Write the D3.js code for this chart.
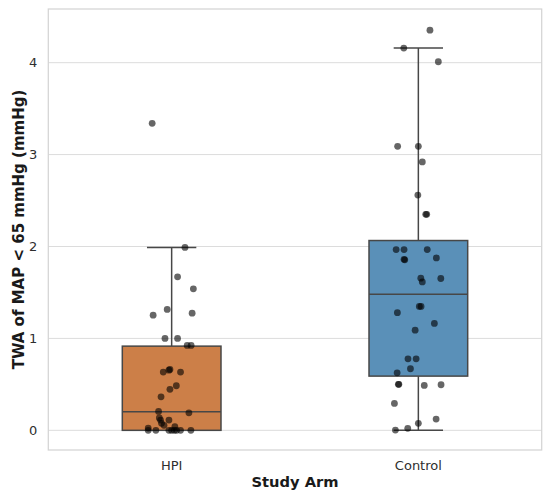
<!DOCTYPE html>
<html>
<head>
<meta charset="utf-8">
<script src="https://cdn.jsdelivr.net/npm/d3@7"></script>
<style>
  body { margin: 0; background: white; }
  text { font-family: "DejaVu Sans", sans-serif; }
</style>
</head>
<body>
<svg id="chart"></svg>
<script>
// categories and box stats
const categories = ["HPI", "Control"]
const boxColors = ["#cc7f48", "#5a90b8"]
const q1s = [0, 0.59]
const medians = [0.202, 1.48]
const q3s = [0.916, 2.065]
const whiskerLows = [0, 0]
const whiskerHighs = [1.99, 4.16]

const yTicks = [0, 1, 2, 3, 4]

// individual points, jitter is in category units
const hpiValues = [3.34, 1.99, 1.67, 1.54, 1.315, 1.253, 1.275, 1.0, 1.0, 0.924, 0.924,
    0.634, 0.655, 0.663, 0.634, 0.485, 0.446, 0.365, 0.206, 0.19, 0.134, 0.112, 0.112,
    0.076, 0.054, 0.025, 0.04, 0, 0, 0, 0, 0, 0, 0, 0]
const hpiJitter = [-0.079, 0.054, 0.024, 0.088, -0.018, -0.075, 0.083, -0.027, 0.024, 0.063, 0.079,
    -0.034, -0.011, -0.007, 0.036, 0.019, -0.007, -0.043, -0.053, 0.070, -0.050, -0.045, -0.011,
    -0.041, -0.031, -0.095, 0.013, -0.095, -0.064, -0.011, 0.0, 0.011, 0.020, 0.036, 0.078]

const controlValues = [4.354, 4.159, 4.01, 3.09, 3.09, 2.92, 2.56, 2.35, 2.35, 1.967, 1.967,
    1.967, 1.876, 1.86, 1.855, 1.655, 1.615, 1.652, 1.348, 1.348, 1.28, 1.163, 1.09,
    0.778, 0.778, 0.67, 0.626, 0.5, 0.5, 0.489, 0.496, 0.293, 0.123, 0.076, 0.022, 0.003]
const controlJitter = [0.047, -0.059, 0.081, -0.084, 0.0, 0.016, -0.002, 0.030, 0.034, -0.090, -0.058,
    0.036, 0.073, -0.058, -0.055, 0.010, 0.016, 0.091, 0.004, 0.011, -0.085, 0.065, -0.013,
    -0.042, -0.009, -0.032, -0.086, -0.081, -0.079, 0.024, 0.092, -0.097, 0.072, 0.0, -0.043, -0.093]

const svgWidth = 550
const svgHeight = 500
const margin = { top: 9, right: 8.3, bottom: 50, left: 48.3 }

const svg = d3.select("#chart")
    .attr("width", svgWidth)
    .attr("height", svgHeight)

const x = d3.scaleBand()
    .domain(categories)
    .range([margin.left, svgWidth - margin.right])
    .padding(0)

const y = d3.scaleLinear()
    .domain([-0.214, 4.584])
    .range([svgHeight - margin.bottom, margin.top])

const bw = x.bandwidth()
const center = c => x(c) + bw / 2

// grid lines
svg.append("g")
    .selectAll("line")
    .data(yTicks)
    .enter()
    .append("line")
    .attr("x1", margin.left)
    .attr("x2", svgWidth - margin.right)
    .attr("y1", d => y(d))
    .attr("y2", d => y(d))
    .attr("stroke", "#dcdcdc")
    .attr("stroke-width", 1)

// y axis tick labels (no tick marks, no domain line)
const yAxis = svg.append("g")
    .attr("transform", `translate(${margin.left},0)`)
    .call(d3.axisLeft(y).tickValues(yTicks).tickSize(0).tickPadding(11).tickFormat(d3.format("d")))
yAxis.select(".domain").remove()
yAxis.selectAll("text")
    .attr("fill", "#2e2e2e")
    .style("font-size", "13px")

// x axis tick labels
const xAxis = svg.append("g")
    .attr("transform", `translate(0,${svgHeight - margin.bottom})`)
    .call(d3.axisBottom(x).tickSize(0).tickPadding(11))
xAxis.select(".domain").remove()
xAxis.selectAll("text")
    .attr("fill", "#2e2e2e")
    .style("font-size", "13px")

// boxes
const boxW = bw * 0.4
const capW = bw * 0.2
const edge = "#474747"

const boxes = svg.append("g")
    .selectAll("g")
    .data(categories)
    .enter()
    .append("g")

// whiskers
boxes.append("line")
    .attr("x1", d => center(d))
    .attr("x2", d => center(d))
    .attr("y1", (d, i) => y(q3s[i]))
    .attr("y2", (d, i) => y(whiskerHighs[i]))
    .attr("stroke", edge)
    .attr("stroke-width", 1.5)
boxes.append("line")
    .attr("x1", d => center(d))
    .attr("x2", d => center(d))
    .attr("y1", (d, i) => y(q1s[i]))
    .attr("y2", (d, i) => y(whiskerLows[i]))
    .attr("stroke", edge)
    .attr("stroke-width", 1.5)
// caps
boxes.append("line")
    .attr("x1", d => center(d) - capW / 2)
    .attr("x2", d => center(d) + capW / 2)
    .attr("y1", (d, i) => y(whiskerHighs[i]))
    .attr("y2", (d, i) => y(whiskerHighs[i]))
    .attr("stroke", edge)
    .attr("stroke-width", 1.5)
boxes.append("line")
    .attr("x1", d => center(d) - capW / 2)
    .attr("x2", d => center(d) + capW / 2)
    .attr("y1", (d, i) => y(whiskerLows[i]))
    .attr("y2", (d, i) => y(whiskerLows[i]))
    .attr("stroke", edge)
    .attr("stroke-width", 1.5)

boxes.append("rect")
    .attr("x", d => center(d) - boxW / 2)
    .attr("width", boxW)
    .attr("y", (d, i) => y(q3s[i]))
    .attr("height", (d, i) => y(q1s[i]) - y(q3s[i]))
    .attr("fill", (d, i) => boxColors[i])
    .attr("stroke", edge)
    .attr("stroke-width", 1.5)

boxes.append("line")
    .attr("x1", d => center(d) - boxW / 2)
    .attr("x2", d => center(d) + boxW / 2)
    .attr("y1", (d, i) => y(medians[i]))
    .attr("y2", (d, i) => y(medians[i]))
    .attr("stroke", edge)
    .attr("stroke-width", 1.5)

// strip points
const points = []
hpiValues.forEach((v, i) => points.push({ cat: "HPI", value: v, jitter: hpiJitter[i] }))
controlValues.forEach((v, i) => points.push({ cat: "Control", value: v, jitter: controlJitter[i] }))

svg.append("g")
    .selectAll("circle")
    .data(points)
    .enter()
    .append("circle")
    .attr("cx", d => center(d.cat) + d.jitter * bw)
    .attr("cy", d => y(d.value))
    .attr("r", 3.4)
    .attr("fill", "black")
    .attr("fill-opacity", 0.6)

// frame
svg.append("rect")
    .attr("x", margin.left)
    .attr("y", margin.top)
    .attr("width", svgWidth - margin.left - margin.right)
    .attr("height", svgHeight - margin.top - margin.bottom)
    .attr("fill", "none")
    .attr("stroke", "#d4d4d4")
    .attr("stroke-width", 1.25)

// axis labels
svg.append("text")
    .attr("x", margin.left + (svgWidth - margin.left - margin.right) / 2)
    .attr("y", 487)
    .attr("text-anchor", "middle")
    .attr("fill", "#1a1a1a")
    .style("font-size", "14.7px")
    .style("font-weight", "bold")
    .text("Study Arm")

svg.append("text")
    .attr("transform", `translate(23.5,${margin.top + (svgHeight - margin.top - margin.bottom) / 2}) rotate(-90)`)
    .attr("text-anchor", "middle")
    .attr("fill", "#1a1a1a")
    .style("font-size", "15px")
    .style("font-weight", "bold")
    .text("TWA of MAP < 65 mmHg (mmHg)")
</script>
</body>
</html>
